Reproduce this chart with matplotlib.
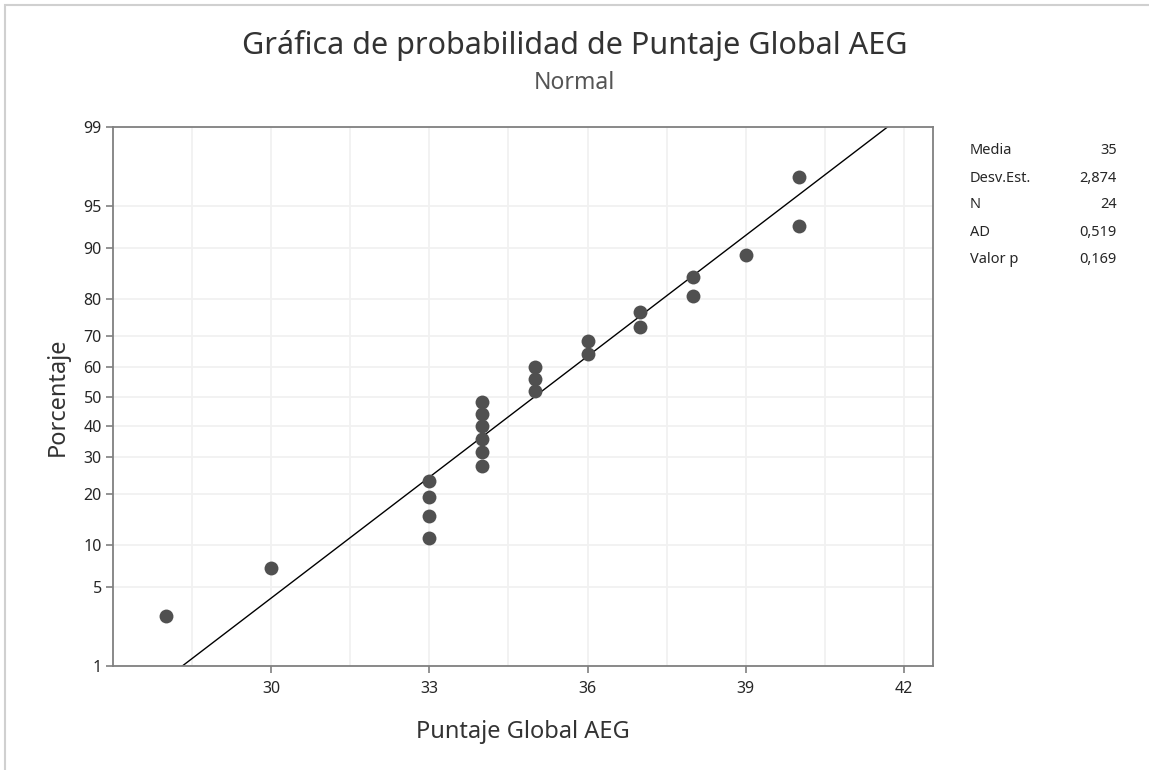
import numpy as np
import matplotlib
matplotlib.use("Agg")
import matplotlib.pyplot as plt
from matplotlib.patches import Rectangle
from statistics import NormalDist

plt.rcParams['font.family'] = ['Noto Sans', 'DejaVu Sans']

# ---------- datos ----------
puntaje = [28, 30, 33, 33, 33, 33, 34, 34, 34, 34, 34, 34,
           35, 35, 35, 36, 36, 37, 37, 38, 38, 39, 40, 40]
porcentaje = [2.9, 7.0, 11.1, 15.2, 19.3, 23.4, 27.5, 31.6, 35.7, 39.8, 43.9, 48.0,
              52.0, 56.1, 60.2, 64.3, 68.4, 72.5, 76.6, 80.7, 84.8, 88.9, 93.0, 97.1]

media = 35
desv_est = 2.874
stat_labels = ["Media", "Desv.Est.", "N", "AD", "Valor p"]
stat_values = ["35", "2,874", "24", "0,519", "0,169"]

y_ticks = [1, 5, 10, 20, 30, 40, 50, 60, 70, 80, 90, 95, 99]
x_ticks = [30, 33, 36, 39, 42]
x_grid = [28.5, 30, 31.5, 33, 34.5, 36, 37.5, 39, 40.5, 42]

# ---------- escala de probabilidad normal ----------
_nd = NormalDist()

def _fwd(p):
    p = np.clip(np.asarray(p, dtype=float), 1e-6, 100 - 1e-6)
    return np.vectorize(lambda v: _nd.inv_cdf(v / 100.0), otypes=[float])(p)

def _inv(z):
    z = np.asarray(z, dtype=float)
    return np.vectorize(lambda v: _nd.cdf(v) * 100.0, otypes=[float])(z)

# recta ajustada (media, desv.est.)
p_line = np.array([1.0, 99.0])
x_line = media + desv_est * np.array([_nd.inv_cdf(p / 100) for p in p_line])

# ---------- figura ----------
fig = plt.figure(figsize=(11.49, 7.70), dpi=100)
ax = fig.add_axes([0.0983, 0.135, 0.7137, 0.700])
ax.set_yscale('function', functions=(_fwd, _inv))

txt = '#262626'
for g in x_grid:
    ax.axvline(g, color='#f1f1f1', lw=1.3, zorder=0)
for t in y_ticks:
    ax.axhline(t, color='#f1f1f1', lw=1.3, zorder=0)

ax.plot(x_line, p_line, color='black', lw=1.0, zorder=2)
ax.plot(puntaje, porcentaje, 'o', color='#505050', ms=10, mec='none', zorder=3)

ax.set_xlim(27, 42.55)
ax.set_ylim(1, 99)
ax.set_xticks(x_ticks)
ax.set_yticks(y_ticks)
ax.set_yticklabels([str(t) for t in y_ticks])
ax.minorticks_off()
ax.tick_params(axis='both', colors='#808080', labelcolor=txt, labelsize=11.5,
               length=5, width=1.2)
ax.tick_params(axis='x', pad=6)
ax.tick_params(axis='y', pad=3)
for s in ax.spines.values():
    s.set_color('#808080')
    s.set_linewidth(1.3)

ax.set_xlabel('Puntaje Global AEG', fontsize=17, color='#333333', labelpad=16)
ax.set_ylabel('Porcentaje', fontsize=17, color='#333333', labelpad=10)

fig.text(0.5, 0.941, 'Gráfica de probabilidad de Puntaje Global AEG',
         ha='center', va='center', fontsize=22, color='#333333')
fig.text(0.5, 0.892, 'Normal', ha='center', va='center', fontsize=16.5, color='#555555')

# cuadro de estadísticos
y0 = 1 - 151 / 770
dy = 27 / 770
for i, (lab, val) in enumerate(zip(stat_labels, stat_values)):
    fig.text(970 / 1149, y0 - i * dy, lab, ha='left', va='center', fontsize=10.5, color=txt)
    fig.text(1117 / 1149, y0 - i * dy, val, ha='right', va='center', fontsize=10.5, color=txt)

# borde exterior gris claro
fig.patches.append(Rectangle((5 / 1149, -0.01), 1.1, 1 - 5 / 770 + 0.01,
                             transform=fig.transFigure, fill=False,
                             edgecolor='#d0d0d0', lw=1.5))

fig.savefig('out.png', dpi=100)
